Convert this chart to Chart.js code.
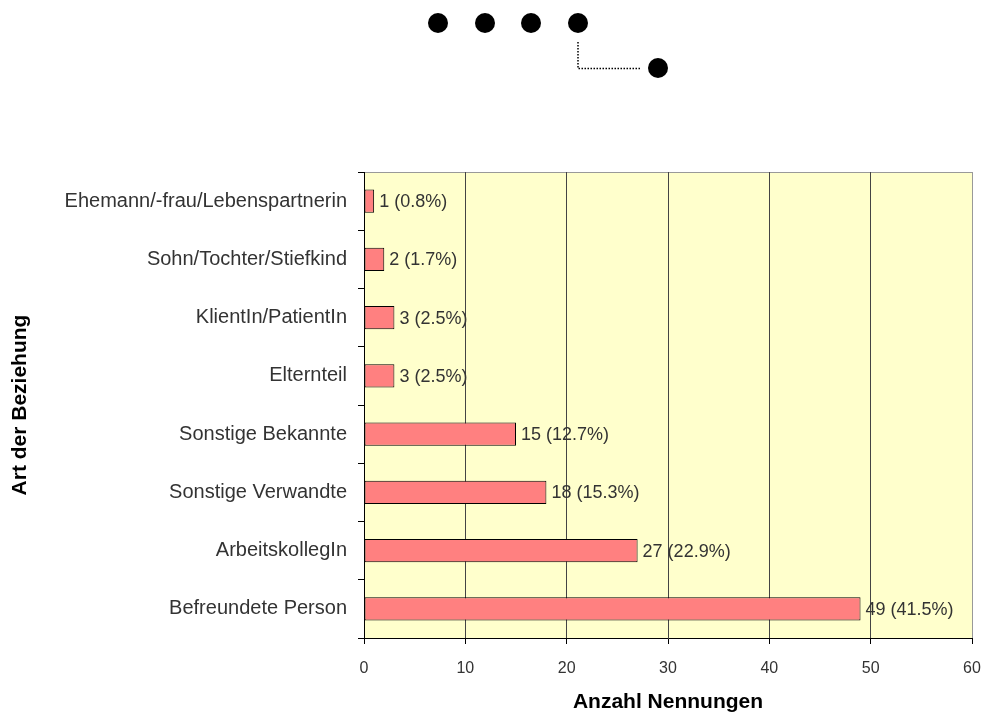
<!DOCTYPE html>
<html><head><meta charset="utf-8">
<script src="https://cdn.jsdelivr.net/npm/chart.js@4"></script>
<style>
html,body{margin:0;padding:0;background:#fff;}
#wrap{position:relative;width:985px;height:715px;}
#logo{position:absolute;left:0;top:0;}
</style></head>
<body>
<div id="wrap">
<canvas id="c" width="985" height="715"></canvas>
<svg id="logo" width="985" height="100">
  <circle cx="438" cy="23" r="10" fill="#000"/>
  <circle cx="485" cy="23" r="10" fill="#000"/>
  <circle cx="531" cy="23" r="10" fill="#000"/>
  <circle cx="578" cy="23" r="10" fill="#000"/>
  <polyline points="578,42 578,68.5 640,68.5" fill="none" stroke="#000" stroke-width="1.5" stroke-dasharray="1.5,1.5"/>
  <circle cx="658" cy="68" r="10" fill="#000"/>
</svg>
</div>
<script>
const categories = ["Ehemann/-frau/Lebenspartnerin","Sohn/Tochter/Stiefkind","KlientIn/PatientIn","Elternteil","Sonstige Bekannte","Sonstige Verwandte","ArbeitskollegIn","Befreundete Person"];
const counts = [1,2,3,3,15,18,27,49];
const percents = ["0.8","1.7","2.5","2.5","12.7","15.3","22.9","41.5"];
const xTicks = [0,10,20,30,40,50,60];

const FONT = "'Liberation Sans', Arial, Helvetica, sans-serif";

const bgPlugin = {
  id: 'bg',
  beforeDraw(chart){
    const {ctx, chartArea:a} = chart;
    ctx.save();
    ctx.fillStyle = '#FFFFCC';
    ctx.fillRect(a.left, a.top, a.right-a.left, a.bottom-a.top);
    ctx.strokeStyle = '#999';
    ctx.lineWidth = 1;
    ctx.beginPath();
    ctx.moveTo(a.left, Math.round(a.top)+0.5);
    ctx.lineTo(a.right, Math.round(a.top)+0.5);
    ctx.stroke();
    ctx.restore();
  }
};
const labelPlugin = {
  id: 'vals',
  afterDatasetsDraw(chart){
    const {ctx} = chart;
    const meta = chart.getDatasetMeta(0);
    ctx.save();
    ctx.font = '18px ' + FONT;
    ctx.fillStyle = '#333';
    ctx.textBaseline = 'middle';
    ctx.textAlign = 'left';
    meta.data.forEach((bar,i)=>{
      ctx.fillText(counts[i] + ' (' + percents[i] + '%)', bar.x + 5, bar.y + 1);
    });
    ctx.restore();
  }
};

new Chart(document.getElementById('c'), {
  type: 'bar',
  data: {
    labels: categories,
    datasets: [{
      data: counts,
      backgroundColor: '#FF8080',
      borderColor: '#000',
      borderWidth: 1,
      borderSkipped: false,
      barPercentage: 0.4,
      categoryPercentage: 1.0
    }]
  },
  options: {
    indexAxis: 'y',
    responsive: false,
    animation: false,
    devicePixelRatio: 1,
    layout: {padding: {top: 172, right: 13, left: 0, bottom: 0}},
    plugins: {legend: {display: false}, tooltip: {enabled: false}},
    scales: {
      x: {
        min: 0, max: 60,
        afterBuildTicks(s){ s.ticks = xTicks.map(v=>({value:v})); },
        afterFit(s){ s.height = 77; s.paddingLeft = 0; s.paddingRight = 0; },
        grid: {color: (c)=> c.tick && c.tick.value === 60 ? '#999' : '#444', lineWidth: 1, drawTicks: true, tickLength: 6, tickColor: '#000'},
        border: {display: true, color: '#000'},
        ticks: {color: '#333', font: {size: 16, family: FONT}, padding: 15},
        title: {display: true, text: 'Anzahl Nennungen', color: '#000', font: {size: 21, weight: 'bold', family: FONT}, padding: {top: 12, bottom: 0}}
      },
      y: {
        afterFit(s){ s.width = 364; s.paddingTop = 0; s.paddingBottom = 0; },
        grid: {offset: true, drawOnChartArea: false, drawTicks: true, tickLength: 6, tickColor: '#000'},
        border: {display: true, color: '#000'},
        ticks: {color: '#333', font: {size: 20, family: FONT}, padding: 11},
        title: {display: true, text: 'Art der Beziehung', color: '#000', font: {size: 21, weight: 'bold', family: FONT}, padding: {top: 8, bottom: 0}}
      }
    }
  },
  plugins: [bgPlugin, labelPlugin]
});
</script>
</body></html>
